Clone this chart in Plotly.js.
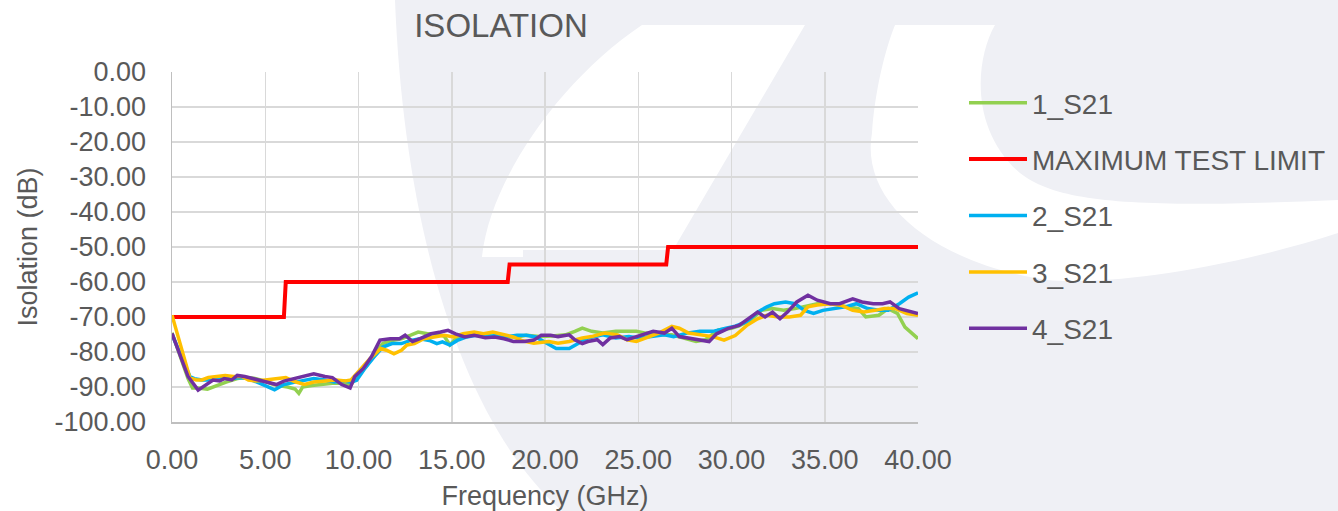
<!DOCTYPE html>
<html>
<head>
<meta charset="utf-8">
<script src="https://cdn.plot.ly/plotly-3.0.1.min.js"></script>
<style>html,body{margin:0;padding:0;background:#fff;}#chart{width:1338px;height:511px;}</style>
</head>
<body>
<div id="chart"></div>
<script>
// ---- data ----
const limitFreq = [0, 6.0, 6.1, 18.0, 18.1, 26.5, 26.6, 40];
const limitVals = [-70, -70, -60, -60, -55, -55, -50, -50];

const s1Freq = [0,0.45,0.86,1.1,1.4,1.9,2.2,2.5,2.9,3.5,4.0,4.5,5.0,5.3,5.7,6.2,6.6,6.8,7.0,7.5,8.0,8.6,9.1,9.6,9.8,10.2,10.4,10.8,11.3,11.8,12.3,12.8,13.2,13.7,14.2,14.6,14.9,15.3,15.8,16.3,16.9,17.4,17.9,18.5,19.0,19.7,20.4,21.1,21.6,22.0,22.5,23.1,23.8,24.3,24.9,25.4,26.1,26.8,27.5,28.1,28.6,29.3,30.0,30.4,31.0,31.6,32.2,32.8,33.4,34.1,34.6,35.5,36.2,36.8,37.2,37.9,38.4,38.9,39.3,40];
const s1Vals = [-74.5,-81,-87.6,-90.3,-90.3,-90.6,-90,-89.3,-88.6,-87.6,-87.3,-87.6,-88.3,-89,-89.6,-90,-90.6,-91.8,-90,-89.6,-89.3,-88.9,-88.9,-89.3,-88,-85.6,-84.2,-81,-77.6,-76.7,-76.2,-75.2,-74.3,-74.8,-74.8,-75.5,-78,-75.7,-75.2,-74.8,-75.2,-75.7,-75.7,-75.7,-75.2,-75.6,-75.4,-75.1,-74.1,-73.2,-74.1,-74.6,-74.1,-74.1,-74.1,-74.6,-75.1,-75.1,-76,-77,-76.5,-73.7,-73.2,-72.5,-71,-68.1,-67.6,-68.1,-67.6,-66.7,-66.2,-66.2,-67.1,-67.6,-70,-69.5,-67.6,-69,-72.9,-76.2];

const s2Freq = [0,0.5,0.96,1.2,1.6,2.0,2.4,2.8,3.3,3.6,4.1,4.6,5.0,5.5,6.0,6.6,7.1,7.6,8.2,8.7,9.2,9.6,9.9,10.3,10.9,11.3,11.8,12.3,12.8,13.3,13.8,14.2,14.5,14.9,15.3,15.8,16.3,16.9,17.4,17.9,18.5,19.0,19.5,20.1,20.6,21.3,21.8,22.3,23.1,23.8,24.5,25.0,25.7,26.4,26.9,27.6,28.3,29.0,29.7,30.2,30.8,31.4,31.9,32.3,32.9,33.4,33.9,34.4,34.9,35.5,36.1,36.7,37.3,37.9,38.4,39.0,39.5,40];
const s2Vals = [-75,-81,-87,-87.6,-88,-88,-87.6,-87.3,-87.6,-87.3,-87.6,-88.6,-89.6,-90.8,-89.3,-88.6,-88,-87.6,-88,-88.6,-88.3,-88.6,-88.1,-85,-81,-78.6,-77.6,-77.6,-76.7,-76.2,-76.7,-77.6,-77.1,-78,-76.7,-75.7,-75.2,-75.7,-75.2,-75.7,-75.2,-75.2,-75.7,-77.6,-79,-79,-77.5,-76,-75.1,-76,-75.6,-76,-75.6,-75.1,-75.6,-74.6,-74.1,-74.1,-73.2,-72.6,-71.4,-68.6,-67.1,-66.2,-65.7,-66.2,-68.1,-69,-68.1,-67.6,-67.1,-66.2,-67.6,-68.1,-68.1,-66.2,-64.3,-63.1];

const s3Freq = [0,0.5,0.96,1.3,1.6,1.95,2.4,2.85,3.3,3.75,4.1,4.5,5.0,5.6,6.1,6.6,7.1,7.6,8.3,8.8,9.3,9.6,10.1,10.6,11.2,11.5,11.9,12.3,12.6,13.0,13.5,14.0,14.6,15.1,15.6,16.2,16.7,17.2,17.8,18.3,18.8,19.4,20.2,20.7,21.3,22.0,22.5,23.2,23.9,24.4,24.9,25.4,26.1,26.8,27.2,27.7,28.3,29.0,29.6,30.2,30.85,31.4,31.9,32.5,33.1,33.7,34.1,34.6,35.3,35.9,36.5,37.1,37.7,38.2,38.8,39.4,40];
const s3Vals = [-69.5,-78.5,-87.4,-88,-88,-87.3,-86.9,-86.7,-87,-87,-88,-88.3,-88,-87.6,-87.3,-88.5,-89.3,-88.6,-88.3,-88,-88.3,-88,-85,-82,-79,-79.5,-80.5,-79.5,-78,-77.6,-76.2,-75.7,-75.2,-75.7,-74.8,-74.3,-74.8,-74.3,-75.2,-75.7,-76.8,-77.5,-77,-77.5,-77,-76,-75.6,-74.6,-75.1,-76.5,-77,-76,-74.6,-72.7,-73.2,-74.6,-75.1,-75.6,-76.6,-75.3,-72.3,-70.5,-69.5,-70,-70,-69.5,-67.1,-66.6,-66.2,-66.7,-68.1,-68.6,-68.1,-67.6,-67.6,-69,-69.5];

const s4Freq = [0,0.45,0.86,1.4,1.86,2.2,2.55,2.8,3.2,3.5,3.9,4.3,4.7,5.1,5.6,6.0,6.6,7.1,7.6,8.2,8.6,9.1,9.55,9.8,10.26,10.7,11.15,11.7,12.2,12.5,12.9,13.3,13.9,14.4,14.8,15.2,15.7,16.2,16.8,17.3,17.8,18.3,18.9,19.4,19.8,20.3,20.7,21.3,21.6,22.0,22.3,22.8,23.1,23.5,24.0,24.4,24.9,25.4,25.8,26.4,26.8,27.2,27.7,28.3,28.8,29.2,29.8,30.4,30.9,31.4,31.8,32.2,32.6,33.0,33.5,34.1,34.6,35.3,35.8,36.5,37.0,37.6,38.1,38.5,39.0,40];
const s4Vals = [-74.7,-81,-87,-90.9,-89.4,-88,-88.3,-87.6,-88,-86.7,-87,-87.6,-88,-88.6,-89.3,-88.3,-87.6,-87,-86.2,-87,-87.3,-89.3,-90.3,-87,-84.7,-81.3,-76.6,-76.2,-76.2,-75.2,-77,-76.2,-74.8,-74.3,-73.8,-74.8,-75.7,-75.2,-75.9,-75.7,-76.2,-77,-77,-76.6,-75.2,-75.2,-75.6,-75.1,-76.5,-77.6,-77,-76.5,-77.9,-76,-75.6,-76.5,-75.6,-74.6,-74.1,-74.6,-73.2,-75.6,-76,-76.5,-77,-74.8,-73.3,-72.4,-70.5,-68.6,-70,-68.6,-70.5,-68.6,-65.7,-63.8,-65.2,-66.2,-66.2,-64.8,-65.7,-66.2,-66.2,-65.7,-67.6,-69];

const seriesNames = ['1_S21', 'MAXIMUM TEST LIMIT', '2_S21', '3_S21', '4_S21'];
const seriesColors = ['#92d050', '#ff0000', '#00b0f0', '#ffc000', '#7030a0'];

const xTickVals = [0,5,10,15,20,25,30,35,40];
const xTickText = ['0.00','5.00','10.00','15.00','20.00','25.00','30.00','35.00','40.00'];
const yTickVals = [0,-10,-20,-30,-40,-50,-60,-70,-80,-90,-100];
const yTickText = ['0.00','-10.00','-20.00','-30.00','-40.00','-50.00','-60.00','-70.00','-80.00','-90.00','-100.00'];

// ---- layout geometry (pixels) ----
const W = 1338, H = 511, L = 172, R = 918, T = 72, B = 422;
function px(x){ return ((x - L) / (R - L)).toFixed(4); }
function py(y){ return ((B - y) / (B - T)).toFixed(4); }
function toPath(list){
  let s = '';
  list.forEach(c => {
    s += c[0];
    const nums = [];
    for (let i = 1; i < c.length; i += 2) nums.push(px(c[i]) + ',' + py(c[i+1]));
    s += nums.join(' ') + ' ';
  });
  return s.trim();
}

// background watermark (decorative)
const grayRegion = toPath([
  ['M',395,0],['L',1338,0],['L',1338,511],['L',562,511],
  ['C',470,430, 405,250, 395,0],['Z']
]);
const slashBand = toPath([
  ['M',642,25],['L',805,25],['L',673,250],['L',523,250],['L',523,257],['L',482,257],
  ['C',490,180, 560,80, 642,25],['Z']
]);
const cBand = toPath([
  ['M',895,25],['L',995,25],
  ['C',975,60, 970,130, 1020,173],
  ['C',1060,205, 1147,208, 1338,200],
  ['L',1338,233],
  ['C',1213,273, 1100,285, 1047,280],
  ['C',930,262, 860,200, 872,133],
  ['C',875,90, 885,50, 895,25],['Z']
]);

const font = 'Liberation Sans, Arial, sans-serif';
const txt = '#595959';

const freqs = [s1Freq, limitFreq, s2Freq, s3Freq, s4Freq];
const vals = [s1Vals, limitVals, s2Vals, s3Vals, s4Vals];
const traces = seriesNames.map((n, i) => ({
  x: freqs[i], y: vals[i], name: n, type: 'scatter', mode: 'lines',
  legendgroup: 'g' + i,
  line: {color: seriesColors[i], width: i === 1 ? 4 : 3.5}
}));

const layout = {
  width: W, height: H,
  margin: {l: L, r: W - R, t: T, b: H - B, pad: 0, autoexpand: false},
  paper_bgcolor: '#ffffff',
  plot_bgcolor: 'rgba(0,0,0,0)',
  font: {family: font, color: txt, size: 27},
  title: {text: 'ISOLATION', font: {family: font, size: 33, color: txt},
          xref: 'paper', x: (501 - L) / (R - L), xanchor: 'center',
          yref: 'container', y: 1 - 25 / H, yanchor: 'middle'},
  xaxis: {
    range: [0, 40], tickvals: xTickVals, ticktext: xTickText,
    showgrid: true, gridcolor: '#d9d9d9', gridwidth: 1.5,
    showline: true, linecolor: '#bfbfbf', linewidth: 1.5,
    zeroline: false, ticks: '', ticklabelstandoff: 13,
    tickfont: {family: font, size: 27, color: txt},
    title: {text: 'Frequency (GHz)', font: {family: font, size: 27, color: txt}, standoff: 12}
  },
  yaxis: {
    range: [-100, 0], tickvals: yTickVals, ticktext: yTickText,
    showgrid: true, gridcolor: '#d9d9d9', gridwidth: 1.5,
    showline: true, linecolor: '#bfbfbf', linewidth: 1.5,
    zeroline: false, ticks: '', ticklabelstandoff: 19,
    tickfont: {family: font, size: 27, color: txt},
    title: {text: 'Isolation (dB)', font: {family: font, size: 27, color: txt}, standoff: 9}
  },
  showlegend: true,
  legend: {
    x: (964 - L) / (R - L), xanchor: 'left',
    y: (B - 78) / (B - T), yanchor: 'top',
    bgcolor: 'rgba(0,0,0,0)', borderwidth: 0,
    font: {family: font, size: 28, color: txt},
    traceorder: 'grouped', tracegroupgap: 17, itemwidth: 58
  },
  shapes: [
    {type: 'path', xref: 'paper', yref: 'paper', path: grayRegion, fillcolor: '#eff0f5', line: {width: 0}, layer: 'below'},
    {type: 'path', xref: 'paper', yref: 'paper', path: slashBand, fillcolor: '#ffffff', line: {width: 0}, layer: 'below'},
    {type: 'path', xref: 'paper', yref: 'paper', path: cBand, fillcolor: '#ffffff', line: {width: 0}, layer: 'below'}
  ]
};

Plotly.newPlot('chart', traces, layout, {displayModeBar: false, staticPlot: true});
</script>
</body>
</html>
